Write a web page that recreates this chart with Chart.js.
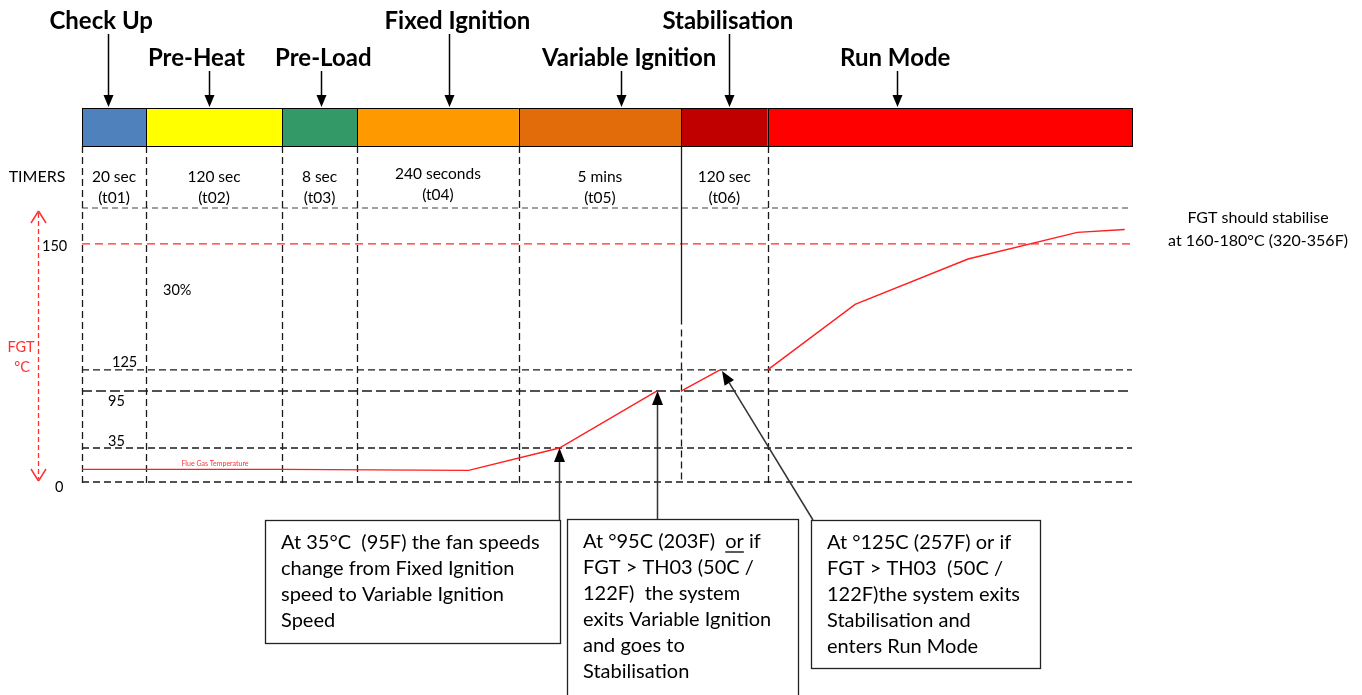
<!DOCTYPE html>
<html>
<head>
<meta charset="utf-8">
<title>FGT start-up sequence</title>
<script src="https://cdn.jsdelivr.net/npm/chart.js@4.4.0/dist/chart.umd.min.js"></script>
<style>
  html, body { margin: 0; padding: 0; background: #fff; }
  canvas { display: block; }
</style>
</head>
<body>
<canvas id="fgtChart" width="1362" height="695"></canvas>
<script>
// stages of the start-up sequence, x axis runs 0..7 (one unit per stage)
const phases = ['Check Up', 'Pre-Heat', 'Pre-Load', 'Fixed Ignition', 'Variable Ignition', 'Stabilisation', 'Run Mode'];
const phaseColors = ['#4f81bd', '#ffff00', '#339966', '#ff9900', '#e36c0a', '#c00000', '#ff0000'];
const timerValues = ['20 sec', '120 sec', '8 sec', '240 seconds', '5 mins', '120 sec', ''];
const timerNames = ['(t01)', '(t02)', '(t03)', '(t04)', '(t05)', '(t06)', ''];

// temperature levels marked on the diagram (°C)
const levels = [0, 35, 95, 125, 150];
const levelLabels = ['0', '35', '95', '125', '150'];

// flue gas temperature, x = position in the sequence, y = °C (null breaks the line)
const fgtX = [0, 2, 3.69, 4.25, 4.85, 4.92, 5, 5.45, 5.7, 6, 6.24, 6.55, 6.85, 6.98];
const fgtY = [13, 13, 12, 35, 95, null, 95, 125, null, 125, 138, 147, 158, 160];

const notes = [
    ['At 35°C  (95F) the fan speeds', 'change from Fixed Ignition', 'speed to Variable Ignition', 'Speed'],
    ['At °95C (203F)  or if', 'FGT > TH03 (50C /', '122F)  the system', 'exits Variable Ignition', 'and goes to', 'Stabilisation'],
    ['At °125C (257F) or if', 'FGT > TH03  (50C /', '122F)the system exits', 'Stabilisation and', 'enters Run Mode']
];
// which point of the trace each note points at
const notePoints = [3, 4, 7];

// the diagram is not drawn to scale, so both axes are piecewise linear
const scaleStops = {
    x: { values: [0, 1, 2, 3, 4, 5, 6, 7], spots: [0, 0.061, 0.1905, 0.262, 0.416, 0.5705, 0.653, 1] },
    y: { values: [0, 35, 95, 125, 150, 175], spots: [0, 0.124, 0.332, 0.409, 0.869, 1] }
};

function interp(v, from, to) {
    for (let i = 1; i < from.length; i++) {
        if (v <= from[i] || i === from.length - 1) {
            const t = (v - from[i - 1]) / (from[i] - from[i - 1]);
            return to[i - 1] + t * (to[i] - to[i - 1]);
        }
    }
}

class PiecewiseScale extends Chart.LinearScale {
    getPixelForValue(value) {
        if (value === null || value === undefined || isNaN(value)) return NaN;
        const s = scaleStops[this.id];
        return this.getPixelForDecimal(interp(value, s.values, s.spots));
    }
    getValueForPixel(pixel) {
        const s = scaleStops[this.id];
        return interp(this.getDecimalForPixel(pixel), s.spots, s.values);
    }
}
PiecewiseScale.id = 'piecewise';
PiecewiseScale.defaults = {};
Chart.register(PiecewiseScale);

const FONT = 'Lato, "Open Sans", sans-serif';

function line(ctx, x1, y1, x2, y2, color, width, dash) {
    ctx.save();
    ctx.strokeStyle = color;
    ctx.lineWidth = width;
    ctx.setLineDash(dash || []);
    ctx.beginPath();
    ctx.moveTo(x1, y1);
    ctx.lineTo(x2, y2);
    ctx.stroke();
    ctx.restore();
}

function arrow(ctx, x1, y1, x2, y2, color, headLen, headW) {
    const a = Math.atan2(y2 - y1, x2 - x1);
    const bx = x2 - headLen * Math.cos(a), by = y2 - headLen * Math.sin(a);
    line(ctx, x1, y1, bx, by, color, 1.5);
    ctx.save();
    ctx.fillStyle = '#000';
    ctx.beginPath();
    ctx.moveTo(x2, y2);
    ctx.lineTo(bx + headW / 2 * Math.sin(a), by - headW / 2 * Math.cos(a));
    ctx.lineTo(bx - headW / 2 * Math.sin(a), by + headW / 2 * Math.cos(a));
    ctx.closePath();
    ctx.fill();
    ctx.restore();
}

function text(ctx, str, x, y, font, color, align) {
    ctx.save();
    ctx.font = font;
    ctx.fillStyle = color || '#000';
    ctx.textAlign = align || 'center';
    ctx.textBaseline = 'middle';
    ctx.fillText(str, x, y);
    ctx.restore();
}

const diagram = {
    id: 'diagram',
    beforeDatasetsDraw(chart) {
        const ctx = chart.ctx;
        const xs = chart.scales.x, ys = chart.scales.y;
        const a = chart.chartArea;
        const barBottom = a.top - 62;

        // level lines
        line(ctx, a.left, ys.getPixelForValue(175), a.right, ys.getPixelForValue(175), '#808080', 1.6, [6, 4]);
        line(ctx, a.left, ys.getPixelForValue(150), a.right, ys.getPixelForValue(150), '#ff2a2a', 1.3, [8, 5]);
        levels.slice(0, 4).forEach(v => {
            const y = ys.getPixelForValue(v);
            line(ctx, a.left, y, a.right, y, '#1a1a1a', v === 95 ? 1.5 : 1.3, v === 95 ? [10, 4] : [7, 4]);
        });

        // stage boundaries
        for (let i = 0; i < 7; i++) {
            const x = Math.round(xs.getPixelForValue(i)) + 0.5;
            if (i === 5) {
                line(ctx, x, barBottom, x, ys.getPixelForValue(134), '#1a1a1a', 1.3);
                line(ctx, x, ys.getPixelForValue(133), x, a.bottom, '#1a1a1a', 1.3, [7, 4]);
            } else {
                line(ctx, x, barBottom, x, a.bottom + 4, '#1a1a1a', 1.3, [7, 4]);
            }
        }
    },
    afterDatasetsDraw(chart) {
        const ctx = chart.ctx;
        const xs = chart.scales.x, ys = chart.scales.y;
        const a = chart.chartArea;
        const barTop = a.top - 100, barBottom = a.top - 62;

        // stage bar
        phases.forEach((p, i) => {
            const x0 = xs.getPixelForValue(i), x1 = xs.getPixelForValue(i + 1);
            ctx.fillStyle = phaseColors[i];
            ctx.fillRect(x0, barTop, x1 - x0, barBottom - barTop);
            ctx.strokeStyle = '#000';
            ctx.lineWidth = 1;
            ctx.strokeRect(Math.round(x0) + 0.5, barTop + 0.5, Math.round(x1 - x0), barBottom - barTop);
        });

        // stage titles with arrows
        const row = [0, 1, 1, 0, 1, 0, 1];
        const labelAt = [0.30, 1.37, 2.55, 3.62, 4.68, 5.54, 6.35];
        const arrowAt = [0.41, 1.465, 2.52, 3.57, 4.63, 5.555, 6.355];
        phases.forEach((p, i) => {
            const ty = row[i] === 0 ? 21 : 58;
            text(ctx, p, xs.getPixelForValue(labelAt[i]), ty, 'bold 24px ' + FONT, '#000');
            const ax = Math.round(xs.getPixelForValue(arrowAt[i])) + 0.5;
            arrow(ctx, ax, ty + 13, ax, barTop - 1, '#000', 12, 10);
        });

        // timers
        text(ctx, 'TIMERS', 37, 177, '16px ' + FONT, '#000');
        timerValues.forEach((t, i) => {
            if (!t) return;
            const cx = (xs.getPixelForValue(i) + xs.getPixelForValue(i + 1)) / 2;
            const dy = i === 3 ? -3 : 0;
            text(ctx, t, cx, 177 + dy, '15.5px ' + FONT, '#000');
            text(ctx, timerNames[i], cx, 198 + dy, '15.5px ' + FONT, '#000');
        });

        // temperature axis
        const red = '#ff3030';
        line(ctx, 38.5, 213, 38.5, a.bottom - 3, red, 1.3, [5, 3]);
        line(ctx, 31, 223, 38.5, 211, red, 1.5);
        line(ctx, 46, 223, 38.5, 211, red, 1.5);
        line(ctx, 31, a.bottom - 13, 38.5, a.bottom - 1, red, 1.5);
        line(ctx, 46, a.bottom - 13, 38.5, a.bottom - 1, red, 1.5);
        text(ctx, 'FGT', 21, 347, '14.5px ' + FONT, red);
        text(ctx, '°C', 22, 367, '14.5px ' + FONT, red);

        const labelPos = { 0: [55, 5], 35: [108, -7], 95: [108, 10], 125: [112, -8], 150: [42, 2] };
        levels.forEach((v, i) => {
            const p = labelPos[v];
            text(ctx, levelLabels[i], p[0], ys.getPixelForValue(v) + p[1], '14.5px ' + FONT, '#000', 'left');
        });
        text(ctx, '30%', 163, 290, '14.5px ' + FONT, '#000', 'left');
        text(ctx, 'Flue Gas Temperature', 215, 464, '7px ' + FONT, red);

        text(ctx, 'FGT should stabilise', 1258, 218, '16px ' + FONT, '#000');
        text(ctx, 'at 160-180°C (320-356F)', 1258, 241, '16px ' + FONT, '#000');

        // note boxes
        const boxes = [[265, 520, 295, 123], [567, 519, 231, 178], [811, 520, 229, 148]];
        const noteFont = '20px ' + FONT;
        boxes.forEach((b, i) => {
            ctx.save();
            ctx.fillStyle = '#fff';
            ctx.fillRect(b[0], b[1], b[2], b[3]);
            ctx.strokeStyle = '#222';
            ctx.lineWidth = 1.3;
            ctx.strokeRect(b[0] + 0.5, b[1] + 0.5, b[2], b[3]);
            ctx.restore();
            notes[i].forEach((l, j) => {
                const tx = b[0] + 16, ty = b[1] + 23 + j * 26;
                text(ctx, l, tx, ty, noteFont, '#000', 'left');
                if (i === 1 && j === 0) {
                    ctx.font = noteFont;
                    const u0 = tx + ctx.measureText('At °95C (203F)  ').width;
                    const uw = ctx.measureText('or').width;
                    line(ctx, u0, ty + 10, u0 + uw, ty + 10, '#000', 1.3);
                }
            });
            const k = notePoints[i];
            const px = xs.getPixelForValue(fgtX[k]), py = ys.getPixelForValue(fgtY[k]);
            if (i === 2) {
                arrow(ctx, b[0] + 2, b[1], px + 2, py + 1, '#333', 14, 11);
            } else {
                arrow(ctx, Math.round(px) + 0.5, b[1], Math.round(px) + 0.5, py, '#333', 14, 11);
            }
        });
    }
};

new Chart(document.getElementById('fgtChart'), {
    type: 'line',
    data: {
        datasets: [{
            label: 'Flue Gas Temperature',
            data: fgtX.map((x, i) => ({ x: x, y: fgtY[i] })),
            borderColor: '#ff1f1f',
            borderWidth: 1.4,
            pointRadius: 0,
            tension: 0,
            spanGaps: false,
            clip: false
        }]
    },
    options: {
        responsive: false,
        animation: false,
        devicePixelRatio: 1,
        layout: { padding: { left: 82, right: 230, top: 208, bottom: 213 } },
        plugins: { legend: { display: false }, tooltip: { enabled: false } },
        scales: {
            x: { type: 'piecewise', min: 0, max: 7, display: false },
            y: { type: 'piecewise', min: 0, max: 175, display: false }
        }
    },
    plugins: [diagram]
});
</script>
</body>
</html>
